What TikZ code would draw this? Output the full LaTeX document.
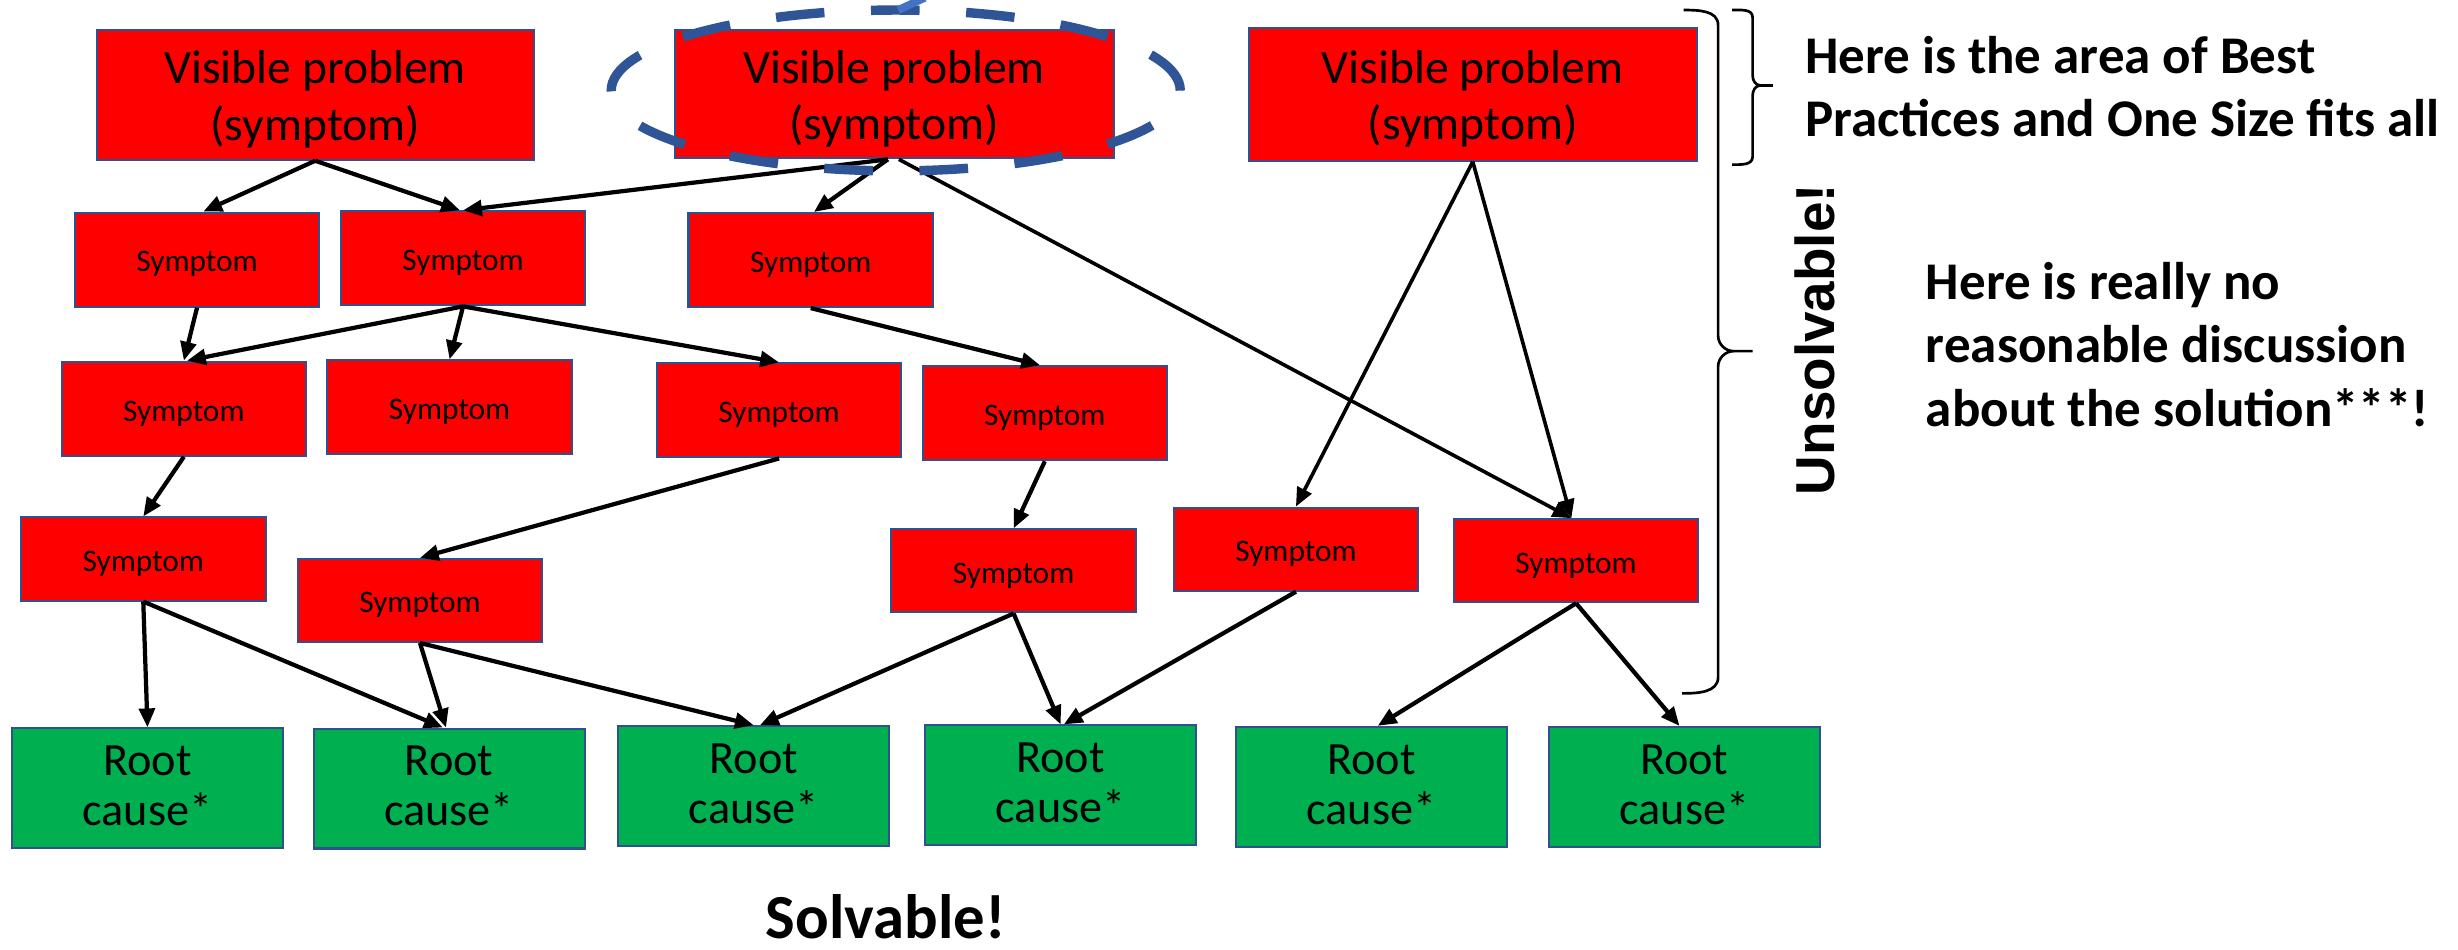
\documentclass[tikz,border=0pt]{standalone}
\usepackage{fontspec}
\setmainfont{Carlito}
\newfontfamily\unsfont{Liberation Sans}
\usetikzlibrary{arrows.meta,calc}
\definecolor{boxred}{HTML}{FF0000}
\definecolor{boxgreen}{HTML}{00B050}
\definecolor{boxborder}{HTML}{2F528F}
\definecolor{ellblue}{HTML}{2F5597}
\definecolor{handleblue}{HTML}{4472C4}
\newcommand\lowertext[2]{\raisebox{-#1}[\height][\depth]{#2}}
\tikzset{
  vp/.style={draw=boxborder, line width=1.3pt, fill=boxred, minimum width=279pt, minimum height=83pt, inner sep=0pt, align=center, font=\fontsize{30.4}{36}\selectfont},
  sym/.style={draw=boxborder, line width=1.3pt, fill=boxred, minimum width=156pt, minimum height=60pt, inner sep=0pt, font=\fontsize{20}{24}\selectfont},
  symlow/.style={sym, minimum height=53pt},
  root/.style={draw=boxborder, line width=1.3pt, fill=boxgreen, minimum width=173pt, minimum height=76.5pt, inner sep=0pt, align=center, font=\fontsize{29.5}{32}\selectfont},
  arr/.style={-{Triangle[length=12pt,width=10pt]}, line width=2.7pt, black},
  bracestyle/.style={line width=1.7pt, black},
  note/.style={anchor=base west, inner sep=0pt, font=\fontsize{33.8}{40.5}\selectfont\bfseries},
}
\newcommand\vptext{\lowertext{3pt}{Visible problem}\\\lowertext{3pt}{(symptom)}}
\newcommand\symtext{\lowertext{3pt}{Symptom}}
\newcommand\roottext{\lowertext{-1.5pt}{Root}\\\lowertext{-1.5pt}{cause*}}
\begin{document}
\begin{tikzpicture}[x=1pt,y=-1pt]
\useasboundingbox (0,0) rectangle (1568,606);

% top row
\node[vp] (vp1) at (201.1,60.4) {\vptext};
\node[vp, minimum width=280pt, minimum height=82pt] (vp2) at (570.4,60) {\vptext};
\node[vp, minimum width=286pt, minimum height=84.8pt] (vp3) at (939.5,60.1) {\vptext};

% row 2
\node[sym] (s2a) at (125.7,165.6) {\symtext};
\node[sym] (s2b) at (295.4,164.8) {\symtext};
\node[sym] (s2c) at (517.2,165.9) {\symtext};
% row 3
\node[sym] (s3a) at (117.3,260.7) {\symtext};
\node[sym] (s3b) at (286.8,259.9) {\symtext};
\node[sym] (s3c) at (497,261.8) {\symtext};
\node[sym] (s3d) at (666.5,263.6) {\symtext};
% row 4
\node[symlow] (s4a) at (91.4,356.6) {\symtext};
\node[symlow] (s4b) at (267.9,383) {\symtext};
\node[symlow] (s4c) at (646.6,364.2) {\symtext};
\node[symlow] (s4d) at (826.7,350.3) {\symtext};
\node[symlow] (s4e) at (1005.4,357.7) {\symtext};
% root causes
\node[root] (r1) at (94.1,502.8) {\roottext};
\node[root] (r2) at (286.5,503) {\roottext};
\node[root] (r3) at (480.8,501.5) {\roottext};
\node[root] (r4) at (676.6,501) {\roottext};
\node[root] (r5) at (874.9,501.9) {\roottext};
\node[root] (r6) at (1074.4,502) {\roottext};

% connectors
\draw[arr] (vp1.south) -- ($(s2a.north)+(4,0)$);
\draw[arr] (vp1.south) -- ($(s2b.north)+(-2,0)$);
\draw[arr] ($(vp2.south)+(-4,0)$) -- (s2b.north);
\draw[arr] ($(vp2.south)+(-4,0)$) -- ($(s2c.north)+(2,0)$);
\draw[arr, line width=2.3pt] ($(vp2.south)+(3,0)$) -- ($(s4e.north)+(-3,0)$);
\draw[arr, line width=2.3pt] (vp3.south) -- (s4d.north);
\draw[arr, line width=2.3pt] (vp3.south) -- ($(s4e.north)+(-3,0)$);
\draw[arr] (s2a.south) -- (s3a.north);
\draw[arr] (s2b.south) -- ($(s3a.north)+(2,0)$);
\draw[arr] (s2b.south) -- (s3b.north);
\draw[arr] (s2b.south) -- (s3c.north);
\draw[arr] (s2c.south) -- ($(s3d.north)+(-3,0)$);
\draw[arr] (s3a.south) -- (s4a.north);
\draw[arr] (s3c.south) -- (s4b.north);
\draw[arr] (s3d.south) -- (s4c.north);
\draw[arr] (s4a.south) -- (r1.north);
\draw[arr] (s4a.south) -- ($(r2.north)+(-4,0)$);
\draw[arr] (s4b.south) -- ($(r2.north)+(-2,0)$);
\draw[arr] (s4b.south) -- (r3.north);
\draw[arr] (s4c.south) -- ($(r3.north)+(4,0)$);
\draw[arr] (s4c.south) -- (r4.north);
\draw[arr] (s4d.south) -- ($(r4.north)+(2,0)$);
\draw[arr] (s4e.south) -- ($(r5.north)+(4,0)$);
\draw[arr] (s4e.south) -- ($(r6.north)+(-3,0)$);

% dashed ellipse round the middle visible problem
\draw[ellblue, line width=6pt, dash pattern=on 31pt off 29.75pt]
  (vp2.center) ++(1pt,-2.3) ellipse [x radius=181.5pt, y radius=51.3pt];
\draw[handleblue, line width=5pt] (573,6.4) -- (590,-1.5);

% braces
\draw[bracestyle] (1074,6.4) to[out=0,in=90] (1096,16) -- (1096,214)
  to[out=-90,in=180] (1106,224) -- (1118,224) -- (1106,224)
  to[out=180,in=90] (1096,234) -- (1096,432) to[out=-90,in=0] (1073,442.3);
\draw[bracestyle] (1105,6.4) to[out=0,in=90] (1118,11) -- (1118,48)
  to[out=-90,in=180] (1123,54.5) -- (1131,54.5) -- (1123,54.5)
  to[out=180,in=90] (1118,61) -- (1118,100) to[out=-90,in=0] (1105,105);

% texts
\node[rotate=90, anchor=base west, inner sep=0pt, font={\unsfont\fontsize{35}{42}\selectfont\bfseries}] (uns) at (1170,316) {Unsolvable!};
\node[note] (t1) at (1151.3,47) {Here is the area of Best};
\node[note] (t2) at (1151.3,87) {Practices and One Size fits all};
\node[note] (t3) at (1228.4,190.8) {Here is really no};
\node[note] (t4) at (1228.4,231.5) {reasonable discussion};
\node[note] (t5) at (1228.4,272) {about the solution***!};
\node[anchor=base, inner sep=0pt, text depth=0pt, font=\fontsize{40}{48}\selectfont\bfseries] (solv) at (565,598.5) {Solvable!};
\end{tikzpicture}
\end{document}
